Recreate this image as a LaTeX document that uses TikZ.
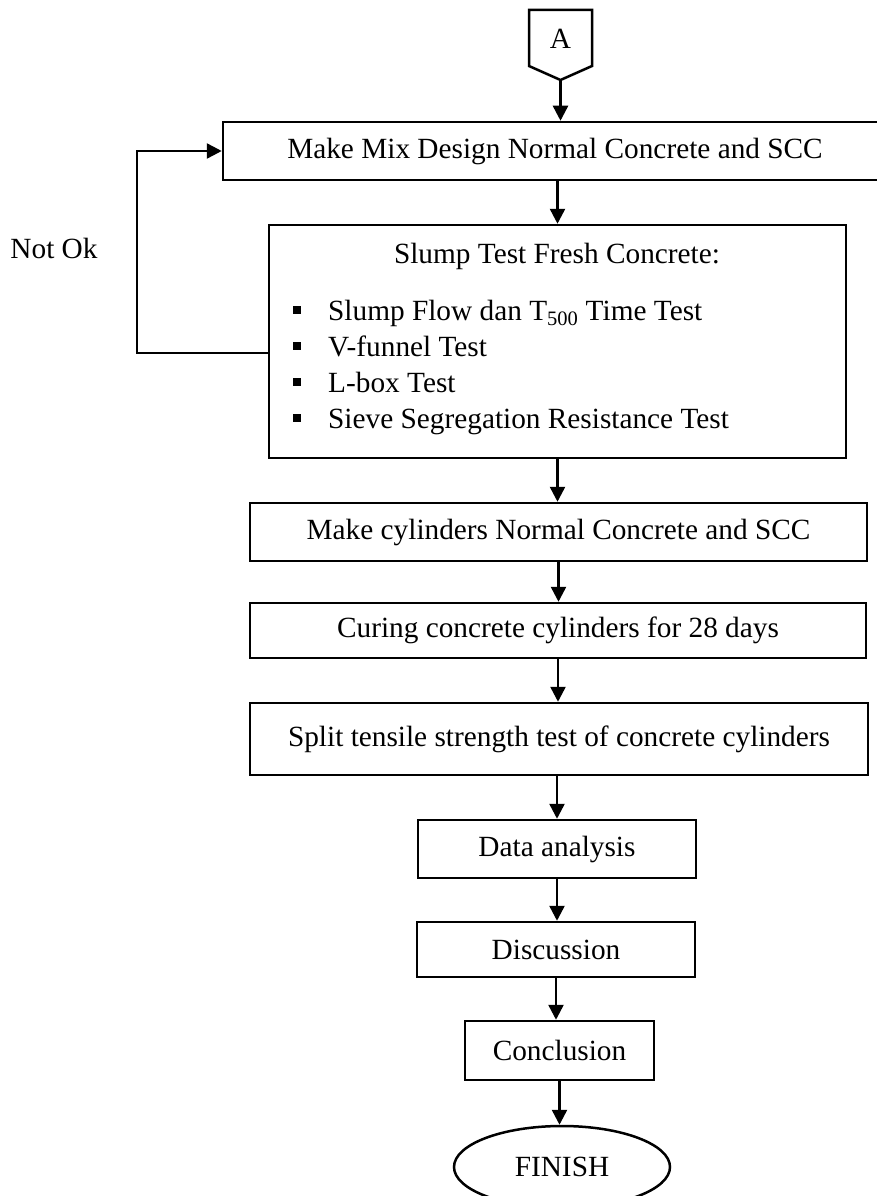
\documentclass[tikz,border=0pt]{standalone}
\usepackage{fontspec}
\setmainfont{Liberation Serif}
\usetikzlibrary{arrows.meta,shapes.geometric}
\begin{document}
\begin{tikzpicture}[x=1pt,y=-1pt,
  every node/.style={font=\fontsize{29.3}{33}\selectfont},
  lw/.style={line width=2.5pt},
  procbox/.style={draw,lw,rectangle,inner sep=0pt,minimum width=#1},
  arr/.style={lw,-{Triangle[width=15pt,length=15pt]}},
  bul/.style={fill=black,inner sep=0pt,minimum size=7.5pt}]
\useasboundingbox (0,0) rectangle (876,1196);
% connector A
\draw[lw,line join=miter] (529,10) -- (592,10) -- (592,66) -- (560.5,80) -- (529,66) -- cycle;
\node (A) at (560.5,39) {A};
\coordinate (Atip) at (560.5,80);
% boxes
\node[procbox=667pt,minimum height=58pt] (mix) at (556.5,151) {};
\node (mixt) at (555,151) {Make Mix Design Normal Concrete and SCC};
\node[procbox=577pt,minimum height=233pt] (slump) at (557.5,341.5) {};
\node[procbox=617pt,minimum height=58pt] (cyl) at (558.5,532) {Make cylinders Normal Concrete and SCC};
\node[procbox=616pt,minimum height=55pt] (cur) at (558,630.5) {Curing concrete cylinders for 28 days};
\node[procbox=618pt,minimum height=72pt] (split) at (559,739) {Split tensile strength test of concrete cylinders};
\node[procbox=278pt,minimum height=58pt] (data) at (557,849) {Data analysis};
\node[procbox=278pt,minimum height=55pt] (disc) at (556,949.5) {Discussion};
\node[procbox=189pt,minimum height=59pt] (conc) at (559.5,1050.5) {Conclusion};
\node[draw,lw,ellipse,inner sep=0pt,minimum width=216pt,minimum height=82pt] (fin) at (562,1167) {FINISH};
% slump content
\node[anchor=base,inner sep=0pt] (st) at (557,263) {Slump Test Fresh Concrete:};
\node[anchor=base west,inner sep=0pt] (l1) at (328,320) {Slump Flow dan T\textsubscript{500} Time Test};
\node[anchor=base west,inner sep=0pt] (l2) at (328,356) {V-funnel Test};
\node[anchor=base west,inner sep=0pt] (l3) at (328,392) {L-box Test};
\node[anchor=base west,inner sep=0pt] (l4) at (328,428) {Sieve Segregation Resistance Test};
\node[bul] (b1) at (297,310) {};
\node[bul] (b2) at (297,346) {};
\node[bul] (b3) at (297,382) {};
\node[bul] (b4) at (297,418) {};
% not ok
\node (nok) at (54,248) {Not Ok};
% arrows
\draw[arr] (Atip) -- (Atip |- mix.north);
\draw[arr] (slump.north |- mix.south) -- (slump.north);
\draw[arr] (slump.south) -- (slump.south |- cyl.north);
\draw[arr] (cyl.south) -- (cyl.south |- cur.north);
\draw[arr] (cur.south) -- (cur.south |- split.north);
\draw[arr] (data.north |- split.south) -- (data.north);
\draw[arr] (data.south) -- (data.south |- disc.north);
\draw[arr] (disc.south) -- (disc.south |- conc.north);
\draw[arr] (conc.south) -- (conc.south |- fin.north);
\draw[arr] ([yshift=-11.5pt]slump.west) -| ([xshift=-85pt]mix.west) -- (mix.west);
\end{tikzpicture}
\end{document}
